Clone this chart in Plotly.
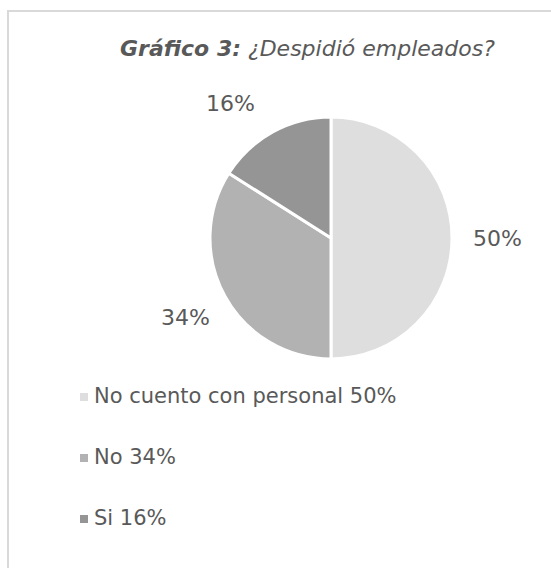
import math
import plotly.graph_objects as go

# ---- data ----
categories = ["No cuento con personal", "No", "Si"]
values = [50, 34, 16]
colors = ["#dedede", "#b2b2b2", "#959595"]
title_bold = "Gráfico 3:"
title_rest = " ¿Despidió empleados?"

W, H = 551, 568
def px(x):
    return x / W
def py(y):
    return 1 - y / H

FONT = "DejaVu Sans"
TXT = "#595959"

cx, cy, r = 331, 238, 121

fig = go.Figure()
fig.add_trace(go.Pie(
    labels=categories, values=values, sort=False, direction="clockwise", rotation=0,
    marker=dict(colors=colors, line=dict(color="white", width=3)),
    textinfo="none", hoverinfo="label+percent", showlegend=False,
    domain=dict(x=[px(cx - r), px(cx + r)], y=[py(cy + r), py(cy - r)]),
))

annotations = []
shapes = []

# percentage labels outside the slices
total = sum(values)
nudge = {0: (0, 0), 1: (0, 0), 2: (-21, 11)}  # layout tweaks (px)
start = 0.0
for i, v in enumerate(values):
    frac = v / total
    mid = (start + frac / 2) * 2 * math.pi
    start += frac
    dist = 166
    lx = cx + dist * math.sin(mid) + nudge[i][0]
    ly = cy - dist * math.cos(mid) + nudge[i][1]
    annotations.append(dict(
        x=px(lx), y=py(ly), xref="paper", yref="paper", showarrow=False,
        text=f"{round(100 * frac)}%", font=dict(family=FONT, size=22, color=TXT),
        xanchor="center", yanchor="middle"))

# title
annotations.append(dict(
    x=px(307), y=py(48), xref="paper", yref="paper", showarrow=False,
    text=f"<b><i>{title_bold}</i></b><i>{title_rest}</i>",
    font=dict(family=FONT, size=22, color=TXT), xanchor="center", yanchor="middle"))

# manual legend
row0, gap = 396, 61
for i, (c, v) in enumerate(zip(categories, values)):
    yc = row0 + i * gap
    shapes.append(dict(type="rect", xref="paper", yref="paper",
                       x0=px(80), x1=px(88), y0=py(yc + 5), y1=py(yc - 3),
                       fillcolor=colors[i], line=dict(width=0)))
    annotations.append(dict(
        x=px(92), y=py(yc), xref="paper", yref="paper", showarrow=False,
        text=f"{c} {v}%", font=dict(family=FONT, size=21, color=TXT),
        xanchor="left", yanchor="middle"))

# outer frame
shapes.append(dict(type="rect", xref="paper", yref="paper",
                   x0=px(8), x1=px(W + 20), y0=py(H + 20), y1=py(11),
                   line=dict(color="#d9d9d9", width=2), fillcolor="rgba(0,0,0,0)"))

fig.update_layout(
    width=W, height=H, margin=dict(l=0, r=0, t=0, b=0),
    paper_bgcolor="white", plot_bgcolor="white",
    annotations=annotations, shapes=shapes, showlegend=False,
)
fig.write_html("out.html")
